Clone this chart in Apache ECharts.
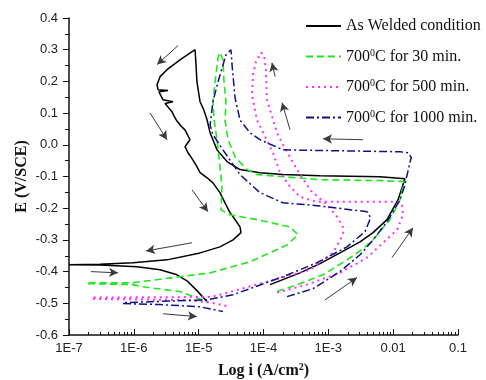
<!DOCTYPE html>
<html>
<head>
<meta charset="utf-8">
<script src="https://cdn.jsdelivr.net/npm/echarts@6/dist/echarts.min.js"></script>
<style>
  html, body { margin: 0; padding: 0; background: #fff; }
  #chart { width: 486px; height: 380px; }
</style>
</head>
<body>
<div id="chart"></div>
<script>
// current density (A/cm2) and potential (V/SCE); null = gap in the trace
const weldedI = [1e-7, 3.0e-7, 1.12e-6, 2.54e-6, 4.63e-6, 6.6e-6, 9.4e-6, 1.35e-5, null,
  1.26e-4, 3.66e-4, 7.44e-4, 1.51e-3, 3.08e-3, 4.89e-3, 8.03e-3, 1.19e-2, 1.47e-2, 1.52e-2,
  6.27e-3, 7.44e-4, 2.0e-4, 8.83e-5, 4.34e-5, 2.74e-5, 1.92e-5, 1.5e-5, 1.35e-5, 1.2e-5, 1.05e-5, 9.4e-6, 9.1e-6, 8.8e-6,
  5.15e-6, 3.25e-6, 2.54e-6, 2.28e-6, 2.36e-6, 3.37e-6, 2.44e-6, 2.82e-6, 4.02e-6, 3.03e-6, 3.88e-6, 4.32e-6, 4.63e-6, 5.4e-6,
  6.15e-6, 7.35e-6, 6.15e-6, 6.85e-6, 8.0e-6, 9.4e-6, 1.05e-5, 1.35e-5, 1.66e-5, 2.13e-5, 2.55e-5, 3.04e-5, 3.39e-5, 4.34e-5,
  4.5e-5, 3.39e-5, 2.13e-5, 1.05e-5, 3.25e-6, 9.7e-7, 3.0e-7, 1e-7];
const weldedE = [-0.378, -0.379, -0.385, -0.394, -0.41, -0.429, -0.46, -0.495, null,
  -0.441, -0.404, -0.375, -0.341, -0.306, -0.277, -0.236, -0.173, -0.116, -0.107,
  -0.101, -0.098, -0.094, -0.088, -0.078, -0.053, -0.016, 0.038, 0.078, 0.11, 0.136, 0.199, 0.253, 0.300,
  0.268, 0.237, 0.215, 0.19, 0.174, 0.171, 0.167, 0.142, 0.136, 0.13, 0.104, 0.085, 0.075, 0.058,
  0.047, 0.016, -0.006, -0.025, -0.045, -0.069, -0.088, -0.104, -0.12, -0.151, -0.183, -0.214, -0.227, -0.259,
  -0.277, -0.3, -0.322, -0.341, -0.363, -0.372, -0.377, -0.378];

const min30I = [1.96e-7, 9.7e-7, 1.38e-6, 5.15e-6, 1.35e-5, null,
  1.62e-4, 3.66e-4, 8.28e-4, 1.94e-3, 3.08e-3, 4.89e-3, 8.93e-3, 1.28e-2, 1.47e-2, 1.52e-2,
  6.27e-3, 7.44e-4, 7.94e-5, 5.57e-5, 3.64e-5, 2.84e-5, 2.55e-5, 2.64e-5, 2.46e-5, 2.37e-5, 2.13e-5,
  1.99e-5, 1.79e-5, 1.66e-5, 1.73e-5, 1.92e-5, 2.13e-5, 2.29e-5, 2.21e-5, 3.04e-5, 7.94e-5, 2.57e-4, 3.41e-4, 2.31e-4,
  6.2e-5, 1.5e-5, 9.7e-7, 1.96e-7];
const min30E = [-0.438, -0.441, -0.448, -0.463, -0.495, null,
  -0.463, -0.438, -0.41, -0.363, -0.335, -0.3, -0.236, -0.173, -0.116, -0.11,
  -0.113, -0.11, -0.094, -0.078, -0.038, 0.016, 0.078, 0.136, 0.199, 0.268, 0.291,
  0.275, 0.199, 0.136, 0.078, 0.016, -0.069, -0.132, -0.205, -0.221, -0.236, -0.259, -0.284, -0.316,
  -0.369, -0.404, -0.435, -0.435];

const min500I = [2.34e-7, 6.6e-6, 1.5e-5, 3.04e-5, null,
  1.62e-4, 4.69e-4, 1.51e-3, 3.95e-3, 6.97e-3, 1.15e-2, 1.42e-2, 1.37e-2, 1.07e-2, 6.69e-4, 3.66e-4, 2.57e-4, 1.8e-4,
  1.4e-4, 7.94e-5, 6.65e-5, 6.89e-5, 7.66e-5, 9.2e-5,
  1.02e-4, 1.09e-4, 1.13e-4, 1.62e-4, 2.0e-4, 3.29e-4, 5.21e-4, 9.54e-4, 1.36e-3, 1.68e-3, 1.68e-3, 1.18e-3, 5.21e-4,
  1.13e-4, 2.13e-5, 1.5e-5, 2.34e-7];
const min500E = [-0.486, -0.49, -0.497, -0.511, null,
  -0.466, -0.441, -0.404, -0.356, -0.309, -0.268, -0.221, -0.189, -0.18, -0.18, -0.164, -0.132, -0.088,
  -0.025, 0.078, 0.158, 0.221, 0.262, 0.291,
  0.281, 0.237, 0.142, 0.038, 0.0, -0.078, -0.142, -0.189, -0.227, -0.26, -0.284, -0.341, -0.394,
  -0.432, -0.473, -0.48, -0.482];

const min1000I = [6.8e-7, 2.54e-6, 1.05e-5, 2.37e-5, null,
  2.31e-4, 5.8e-4, 1.51e-3, 3.08e-3, 4.89e-3, 8.03e-3, 1.28e-2, 1.5e-2, 1.75e-2, 1.9e-2, 1.7e-2, 1.28e-2,
  2.0e-4, 8.83e-5, 6.2e-5, 4.34e-5, 3.64e-5, 3.27e-5, 3.15e-5,
  2.64e-5, 1.99e-5, 1.66e-5, 1.5e-5, 1.66e-5, 2.37e-5, 4.34e-5, 8.83e-5, 2.0e-4, 6.69e-4, 3.95e-3, 4.5e-3, 3.68e-3,
  1.94e-3, 6.69e-4, 2.0e-4, 3.39e-5, 1.35e-5, 6.8e-7];
const min1000E = [-0.501, -0.504, -0.511, -0.526, null,
  -0.479, -0.454, -0.4, -0.347, -0.3, -0.243, -0.173, -0.13, -0.07, -0.04, -0.025, -0.022,
  -0.016, 0.016, 0.038, 0.078, 0.149, 0.253, 0.3,
  0.284, 0.199, 0.136, 0.062, 0.032, -0.016, -0.094, -0.151, -0.183, -0.192, -0.211, -0.23, -0.274,
  -0.322, -0.372, -0.416, -0.473, -0.489, -0.498];

// scan-direction arrows: [i0, E0, i1, E1]
const arrows = [
  [4.8e-6, 0.313, 2.28e-6, 0.253],
  [1.77e-6, 0.101, 3.25e-6, 0.016],
  [7.9e-6, -0.142, 1.39e-5, -0.211],
  [7.9e-6, -0.309, 1.54e-6, -0.335],
  [2.18e-7, -0.4, 5.7e-7, -0.404],
  [2.82e-6, -0.533, 9.4e-6, -0.542],
  [8.89e-4, -0.489, 2.77e-3, -0.419],
  [9.59e-3, -0.356, 2.02e-2, -0.262],
  [3.43e-3, 0.016, 8.28e-4, 0.019],
  [2.57e-4, 0.047, 1.93e-4, 0.133],
  [1.51e-4, 0.215, 1.35e-4, 0.259]
];

const seriesNames = ['As Welded condition', '700°C for 30 min.', '700°C for 500 min.', '700°C for 1000 min.'];
const legendLabels = ['As Welded condition', '700{sup|0}C for 30 min.', '700{sup|0}C for 500 min.', '700{sup|0}C for 1000 min.'];
const xTickLabels = ['1E-7', '1E-6', '1E-5', '1E-4', '1E-3', '0.01', '0.1'];

function pairs(xs, ys) {
  return xs.map((x, k) => (x == null ? ['-', '-'] : [x, ys[k]]));
}

// log-scale minor tick positions (2..9 in each decade), in log10 units
const minorTicks = [];
for (let d = -7; d < -1; d++) {
  for (let k = 2; k <= 9; k++) minorTicks.push(d + Math.log10(k));
}

const chart = echarts.init(document.getElementById('chart'), null, { renderer: 'canvas' });

const lineBase = { type: 'line', symbol: 'none', showSymbol: false, xAxisIndex: 0, animation: false };

chart.setOption({
  backgroundColor: '#fff',
  animation: false,
  grid: { left: 69, right: 28, top: 18, bottom: 45, containLabel: false, outerBoundsMode: 'none' },
  legend: {
    orient: 'vertical',
    left: 305,
    top: 18,
    padding: 0,
    itemWidth: 35,
    itemHeight: 14,
    itemGap: 14,
    data: seriesNames,
    itemStyle: { opacity: 0 },
    formatter: (n) => legendLabels[seriesNames.indexOf(n)],
    textStyle: {
      fontFamily: 'Liberation Serif',
      fontSize: 16,
      color: '#111',
      rich: { sup: { fontSize: 10, verticalAlign: 'top', padding: [0, 0, 7, 0] } }
    }
  },
  xAxis: [
    {
      type: 'log',
      logBase: 10,
      min: 1e-7,
      max: 0.1,
      splitNumber: 6,
      name: 'Log i (A/cm{sup|2})',
      nameLocation: 'middle',
      nameGap: 27,
      nameMoveOverlap: false,
      nameTextStyle: {
        fontFamily: 'Liberation Serif', fontWeight: 'bold', fontSize: 16, color: '#111',
        rich: { sup: { fontFamily: 'Liberation Serif', fontWeight: 'bold', fontSize: 10, verticalAlign: 'top', padding: [0, 0, 7, 0] } }
      },
      axisLine: { onZero: false, lineStyle: { color: '#111', width: 1.5 } },
      axisTick: { inside: true, length: 6, lineStyle: { color: '#111', width: 1 } },
      axisLabel: {
        margin: 7,
        fontFamily: 'Liberation Sans',
        fontSize: 13,
        color: '#222',
        formatter: (v) => xTickLabels[Math.round(Math.log10(v)) + 7]
      },
      splitLine: { show: false }
    },
    {
      type: 'value',
      min: -7,
      max: -1,
      position: 'bottom',
      axisLine: { show: false, onZero: false },
      axisLabel: { show: false },
      splitLine: { show: false },
      axisTick: { inside: true, length: 3, customValues: minorTicks, lineStyle: { color: '#111', width: 1 } }
    }
  ],
  yAxis: {
    type: 'value',
    min: -0.6,
    max: 0.4,
    interval: 0.1,
    name: 'E (V/SCE)',
    nameLocation: 'middle',
    nameGap: 39,
    nameMoveOverlap: false,
    nameTextStyle: { fontFamily: 'Liberation Serif', fontWeight: 'bold', fontSize: 16, color: '#111' },
    axisLine: { show: true, onZero: false, lineStyle: { color: '#111', width: 1.5 } },
    axisTick: { show: true, length: 6, lineStyle: { color: '#111' } },
    minorTick: { show: true, splitNumber: 2, length: 4, lineStyle: { color: '#111' } },
    axisLabel: {
      margin: 11,
      fontFamily: 'Liberation Sans',
      fontSize: 13,
      color: '#222',
      formatter: (v) => v.toFixed(1)
    },
    splitLine: { show: false }
  },
  series: [
    { ...lineBase, name: seriesNames[0], data: pairs(weldedI, weldedE), lineStyle: { color: '#000', width: 1.5 }, itemStyle: { color: '#000' } },
    { ...lineBase, name: seriesNames[1], data: pairs(min30I, min30E), lineStyle: { color: '#1ee81e', width: 1.6, type: [7, 4] }, itemStyle: { color: '#1ee81e' } },
    { ...lineBase, name: seriesNames[2], data: pairs(min500I, min500E), lineStyle: { color: '#ff2eff', width: 2, type: [2, 4] }, itemStyle: { color: '#ff2eff' } },
    { ...lineBase, name: seriesNames[3], data: pairs(min1000I, min1000E), lineStyle: { color: '#10108a', width: 1.5, type: [8, 3, 2, 3] }, itemStyle: { color: '#10108a' } },
    {
      ...lineBase,
      name: 'arrows',
      data: [],
      markLine: {
        silent: true,
        symbol: ['none', 'arrow'],
        symbolSize: [7, 9],
        label: { show: false },
        lineStyle: { color: '#3a3a3a', width: 1, type: 'solid' },
        data: arrows.map((a) => [{ coord: [a[0], a[1]] }, { coord: [a[2], a[3]] }])
      }
    }
  ]
});
</script>
</body>
</html>
